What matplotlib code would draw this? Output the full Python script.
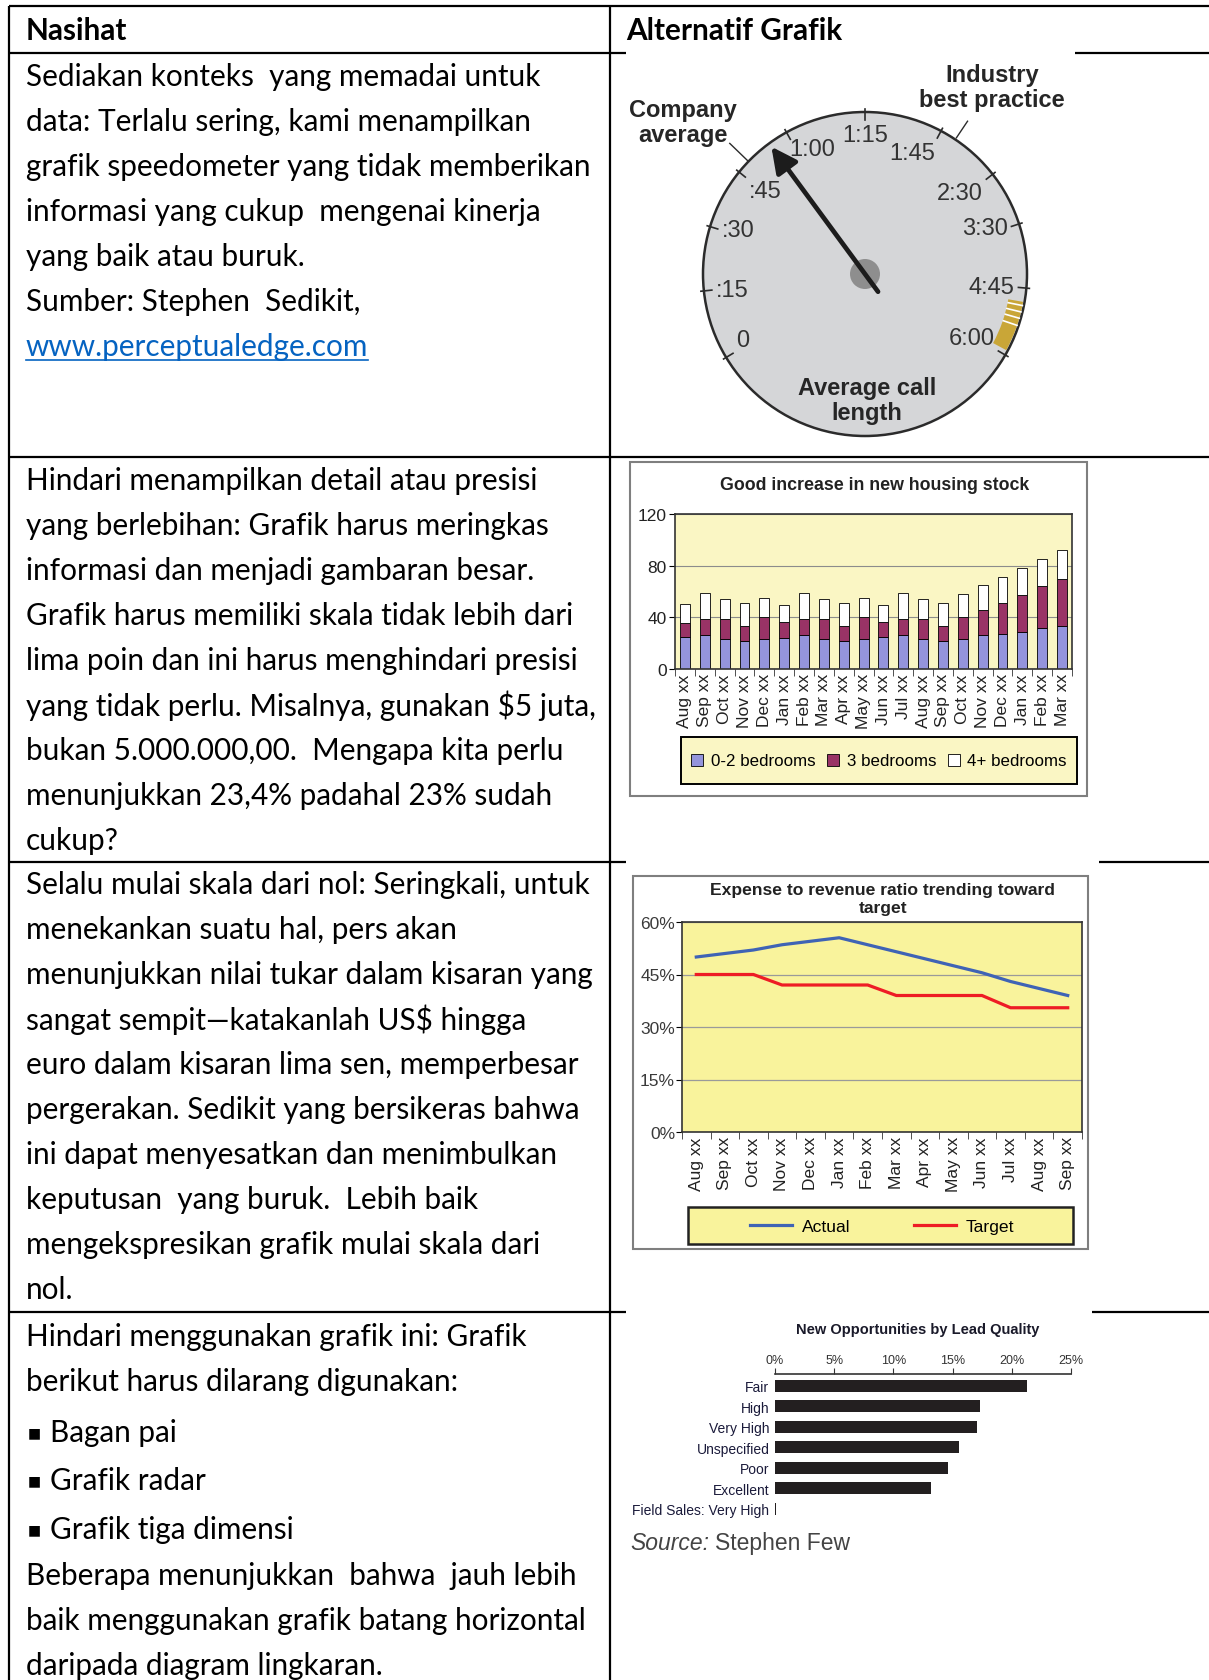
import numpy as np
import matplotlib.pyplot as plt
from matplotlib.patches import Circle, Wedge, Rectangle, FancyArrowPatch

W, H = 1209, 1681

# ---- text of the table ----
header_left = 'Nasihat'
header_right = 'Alternatif Grafik'
advice_1 = ['Sediakan konteks  yang memadai untuk',
            'data: Terlalu sering, kami menampilkan',
            'grafik speedometer yang tidak memberikan',
            'informasi yang cukup  mengenai kinerja',
            'yang baik atau buruk.',
            'Sumber: Stephen  Sedikit,']
advice_1_link = 'www.perceptualedge.com'
advice_2 = ['Hindari menampilkan detail atau presisi',
            'yang berlebihan: Grafik harus meringkas',
            'informasi dan menjadi gambaran besar.',
            'Grafik harus memiliki skala tidak lebih dari',
            'lima poin dan ini harus menghindari presisi',
            'yang tidak perlu. Misalnya, gunakan $5 juta,',
            'bukan 5.000.000,00.  Mengapa kita perlu',
            'menunjukkan 23,4% padahal 23% sudah',
            'cukup?']
advice_3 = ['Selalu mulai skala dari nol: Seringkali, untuk',
            'menekankan suatu hal, pers akan',
            'menunjukkan nilai tukar dalam kisaran yang',
            'sangat sempit\u2014katakanlah US$ hingga',
            'euro dalam kisaran lima sen, memperbesar',
            'pergerakan. Sedikit yang bersikeras bahwa',
            'ini dapat menyesatkan dan menimbulkan',
            'keputusan  yang buruk.  Lebih baik',
            'mengekspresikan grafik mulai skala dari',
            'nol.']
advice_4_intro = ['Hindari menggunakan grafik ini: Grafik',
                  'berikut harus dilarang digunakan:']
advice_4_bullets = ['Bagan pai', 'Grafik radar', 'Grafik tiga dimensi']
advice_4_outro = ['Beberapa menunjukkan  bahwa  jauh lebih',
                  'baik menggunakan grafik batang horizontal',
                  'daripada diagram lingkaran.']

# ---- gauge (seconds) ----
dial_seconds = [0, 15, 30, 45, 60, 75, 105, 150, 210, 285, 360]
dial_labels = ['0', ':15', ':30', ':45', '1:00', '1:15', '1:45', '2:30', '3:30', '4:45', '6:00']
company_average = 55
industry_best = 116
good_zone = (300, 355)

# ---- housing stock ----
housing_months = ['Aug xx', 'Sep xx', 'Oct xx', 'Nov xx', 'Dec xx', 'Jan xx', 'Feb xx',
                  'Mar xx', 'Apr xx', 'May xx', 'Jun xx', 'Jul xx', 'Aug xx', 'Sep xx',
                  'Oct xx', 'Nov xx', 'Dec xx', 'Jan xx', 'Feb xx', 'Mar xx']
beds_0_2 = [24.5, 26, 23, 21.5, 23, 24, 26, 23, 21.5, 23, 24.5, 26, 23, 21.5, 23, 26, 27, 29, 32, 33.5]
beds_3 = [11.5, 13, 16, 12, 17, 12.5, 13, 15.5, 12, 17, 12, 13, 15.5, 12, 17, 20, 24, 28.5, 32, 36]
beds_4 = [14, 20, 15, 17.5, 15, 13, 20, 15.5, 17.5, 15, 13, 20, 15.5, 17.5, 18, 19, 20.5, 21, 21.5, 23]

# ---- expense ratio ----
ratio_months = ['Aug xx', 'Sep xx', 'Oct xx', 'Nov xx', 'Dec xx', 'Jan xx', 'Feb xx',
                'Mar xx', 'Apr xx', 'May xx', 'Jun xx', 'Jul xx', 'Aug xx', 'Sep xx']
ratio_actual = [50, 51, 52, 53.5, 54.5, 55.5, 53.5, 51.5, 49.5, 47.5, 45.5, 43, 41, 39]
ratio_target = [45, 45, 45, 42, 42, 42, 42, 39, 39, 39, 39, 35.5, 35.5, 35.5]

# ---- lead quality ----
lead_quality = ['Fair', 'High', 'Very High', 'Unspecified', 'Poor', 'Excellent', 'Field Sales: Very High']
lead_share = [21.3, 17.3, 17.1, 15.5, 14.6, 13.2, 0.1]

fig = plt.figure(figsize=(W / 100, H / 100), dpi=100)


def px_axes(x0, y0, x1, y1, **kw):
    return fig.add_axes([x0 / W, 1 - y1 / H, (x1 - x0) / W, (y1 - y0) / H], **kw)


bg = px_axes(0, 0, W, H)
bg.set_xlim(0, W)
bg.set_ylim(H, 0)
bg.axis('off')

# table rules
rule = dict(color='black', lw=1.6, solid_capstyle='butt')
for y, segs in [(7, [(9, W)]), (53.5, [(9, 626), (1075, W)]), (457.5, [(9, W)]),
                (862.5, [(9, 626), (1099, W)]), (1313, [(9, 626), (1092, W)])]:
    for a, b in segs:
        bg.plot([a, b], [y, y], **rule)
bg.plot([9, 9], [7, H], **rule)
bg.plot([610, 610], [7, H], **rule)

body = dict(family=['Lato', 'DejaVu Sans'], fontsize=21.4, color='black', va='center', ha='left')
bg.text(26, 31, header_left, fontweight='bold', **body)
bg.text(626, 31, header_right, fontweight='bold', **body)

step = 45
for i, s in enumerate(advice_1):
    bg.text(26, 77 + i * step, s, **body)
link = bg.text(26, 77 + 6 * step, advice_1_link, **{**body, 'color': '#0563c1'})
for i, s in enumerate(advice_2):
    bg.text(26, 481 + i * step, s, **body)
for i, s in enumerate(advice_3):
    bg.text(26, 885 + i * step, s, **body)
for i, s in enumerate(advice_4_intro):
    bg.text(26, 1337 + i * step, s, **body)
for i, s in enumerate(advice_4_bullets):
    y = 1433 + i * 48.5
    bg.text(28, y, '\u25a0', family='DejaVu Sans', fontsize=10, va='center', ha='left')
    bg.text(50, y, s, **body)
for i, s in enumerate(advice_4_outro):
    bg.text(26, 1576 + i * step, s, **body)

# underline for the link
renderer = fig.canvas.get_renderer()
bb = link.get_window_extent(renderer)
(lx0, _), (lx1, _) = bg.transData.inverted().transform([[bb.x0, bb.y0], [bb.x1, bb.y0]])
bg.plot([lx0, lx1], [77 + 6 * step + 14, 77 + 6 * step + 14], color='#0563c1', lw=1.2)

# ---------------- gauge ----------------
dial_angles = [211, 186, 163, 141, 119, 90, 62, 38, 18, -5, -30]
gx = px_axes(620, 55, 1105, 452)
gx.set_xlim(-245, 240)
gx.set_ylim(-177, 220)
gx.axis('off')
R = 162


def ang(v):
    return np.interp(v, dial_seconds, dial_angles)


def polar(r, a):
    t = np.deg2rad(a)
    return r * np.cos(t), r * np.sin(t)


gx.add_patch(Circle((0, 0), R, fc='#d5d6d8', ec='#2b2b2b', lw=1.8))
a0, a1 = ang(good_zone[1]), ang(good_zone[0])
gx.add_patch(Wedge((0, 0), R - 1.5, a0, a1, width=15, fc='#c9a637', ec='none'))
for v in [304, 311, 318, 326]:
    a = ang(v)
    gx.plot(*zip(polar(R - 16, a), polar(R - 1.5, a)), color='white', lw=1.2)
for a, lab in zip(dial_angles, dial_labels):
    gx.plot(*zip(polar(R - 8, a), polar(R + 3, a)), color='#2b2b2b', lw=1.2)
    c, s = np.cos(np.deg2rad(a)), np.sin(np.deg2rad(a))
    ha = 'left' if c < -0.3 else ('right' if c > 0.3 else 'center')
    va = 'top' if s > 0.5 else ('bottom' if s < -0.45 else 'center')
    r = 156 if lab == '1:00' else 150
    gx.text(*polar(r, a), lab, ha=ha, va=va, fontsize=17, color='#333333',
            family='Liberation Sans')
gx.add_patch(Circle((0, 0), 15, fc='#8e8e8e', ec='none'))
a = ang(company_average)
gx.add_patch(FancyArrowPatch(polar(-22, a), polar(158, a),
                             arrowstyle='-|>,head_length=0.7,head_width=0.35',
                             mutation_scale=22, lw=3.4, color='#1c1c1c',
                             shrinkA=0, shrinkB=0))
gx.plot(*zip(polar(163, 136), polar(188, 136)), color='#2b2b2b', lw=1)
b = ang(industry_best)
gx.plot(*zip(polar(164, b), polar(184, b)), color='#2b2b2b', lw=1)
lab_kw = dict(ha='center', va='center', fontsize=17, fontweight='bold',
              color='#262626', family='Liberation Sans', linespacing=1.15)
gx.text(-182, 152, 'Company\naverage', **lab_kw)
gx.text(127, 187, 'Industry\nbest practice', **lab_kw)
gx.text(2, -126, 'Average call\nlength', **lab_kw)

# ---------------- housing stock ----------------
bg.add_patch(Rectangle((630, 463), 457, 334, fc='white', ec='#7f7f7f', lw=1.5))
bg.text(875, 485, 'Good increase in new housing stock', ha='center', va='center',
        fontsize=12.8, fontweight='bold', color='#222222', family='Liberation Sans')
hx = px_axes(675, 515, 1072, 670, facecolor='#faf6c4')
x = np.arange(len(housing_months))
b1 = hx.bar(x, beds_0_2, 0.5, color='#9494dc', ec='black', lw=0.6, label='0-2 bedrooms')
bot = np.array(beds_0_2)
b2 = hx.bar(x, beds_3, 0.5, bottom=bot, color='#993366', ec='black', lw=0.6, label='3 bedrooms')
bot = bot + np.array(beds_3)
b3 = hx.bar(x, beds_4, 0.5, bottom=bot, color='white', ec='black', lw=0.6, label='4+ bedrooms')
hx.set_xlim(-0.5, len(x) - 0.5)
hx.set_ylim(0, 120)
hx.set_yticks([0, 40, 80, 120])
hx.yaxis.grid(True, color='#8c8c8c', lw=0.8)
hx.set_axisbelow(True)
hx.set_xticks(x)
hx.set_xticklabels(housing_months, rotation=90, fontsize=12.5, family='Liberation Sans', color='#222222')
hx.set_xticks(np.arange(-0.5, len(x), 1), minor=True)
hx.tick_params(axis='x', which='major', length=0, pad=3)
hx.tick_params(axis='x', which='minor', length=5, color='#333333')
hx.tick_params(axis='y', length=4, pad=2, labelsize=12.5, labelcolor='#222222')
for t in hx.get_yticklabels():
    t.set_family('Liberation Sans')
for sp in hx.spines.values():
    sp.set_color('#333333')
    sp.set_linewidth(1.2)
bg.add_patch(Rectangle((681, 738), 396, 47, fc='#faf6c4', ec='black', lw=1.4))
hx.legend(handles=[b1, b2, b3], loc='center', ncol=3, frameon=False,
          bbox_to_anchor=(879 / W, 1 - 762 / H), bbox_transform=fig.transFigure,
          handlelength=0.7, handleheight=0.7, handletextpad=0.45, columnspacing=0.7,
          borderaxespad=0, prop={'family': 'Liberation Sans', 'size': 12.2})

# ---------------- expense ratio ----------------
bg.add_patch(Rectangle((633, 877), 455, 373, fc='white', ec='#7f7f7f', lw=1.5))
bg.text(883, 900, 'Expense to revenue ratio trending toward\ntarget', ha='center', va='center',
        fontsize=12.6, fontweight='bold', color='#222222', family='Liberation Sans',
        linespacing=1.25)
ex = px_axes(682, 923, 1082, 1133, facecolor='#f9f39c')
xr = np.arange(len(ratio_months))
la, = ex.plot(xr, ratio_actual, color='#3f63b5', lw=2.3, label='Actual')
lt, = ex.plot(xr, ratio_target, color='#ee1c25', lw=2.3, label='Target')
ex.set_xlim(-0.5, len(xr) - 0.5)
ex.set_ylim(0, 60)
ex.set_yticks([0, 15, 30, 45, 60])
ex.set_yticklabels([f'{v}%' for v in [0, 15, 30, 45, 60]], family='Liberation Sans')
ex.yaxis.grid(True, color='#9a9a9a', lw=0.9)
ex.set_axisbelow(True)
ex.set_xticks(xr)
ex.set_xticklabels(ratio_months, rotation=90, fontsize=12.5, family='Liberation Sans', color='#222222')
ex.set_xticks(np.arange(-0.5, len(xr), 1), minor=True)
ex.tick_params(axis='x', which='major', length=0, pad=3)
ex.tick_params(axis='x', which='minor', length=5, color='#333333')
ex.tick_params(axis='y', length=4, pad=1, labelsize=12.5, labelcolor='#3a3a3a')
for sp in ex.spines.values():
    sp.set_color('#333333')
    sp.set_linewidth(1.2)
bg.add_patch(Rectangle((688, 1208), 385, 37, fc='#f9f39c', ec='#222222', lw=1.8))
ex.legend(handles=[la, lt], loc='center', ncol=2, frameon=False,
          bbox_to_anchor=(882 / W, 1 - 1227 / H), bbox_transform=fig.transFigure,
          handlelength=2.4, handletextpad=0.6, columnspacing=3.6, borderaxespad=0,
          prop={'family': 'Liberation Sans', 'size': 12.6})

# ---------------- lead quality ----------------
bg.text(918, 1330, 'New Opportunities by Lead Quality', ha='center', va='center',
        fontsize=10.5, fontweight='bold', color='#1a1a2a', family='Liberation Sans')
qx = px_axes(775, 1375, 1071, 1520)
yq = np.arange(len(lead_quality))
qx.barh(yq, lead_share, height=0.6, color='#231f20')
qx.set_xlim(0, 25)
qx.set_ylim(len(lead_quality) - 0.5, -0.57)
qx.set_xticks([0, 5, 10, 15, 20, 25])
qx.set_xticklabels([f'{v}%' for v in [0, 5, 10, 15, 20, 25]], family='Liberation Sans')
qx.xaxis.tick_top()
qx.tick_params(axis='x', direction='out', length=4, pad=2, labelsize=9, labelcolor='#333333',
               color='#333333')
qx.set_yticks(yq)
qx.set_yticklabels(lead_quality, family='Liberation Sans', fontsize=10, color='#1a1a3a')
qx.tick_params(axis='y', length=0, pad=4)
for k in ['bottom', 'left', 'right']:
    qx.spines[k].set_visible(False)
qx.spines['top'].set_color('#333333')
qx.spines['top'].set_linewidth(1.2)
qx.set_facecolor('none')

src = bg.text(630, 1544, 'Source:', fontsize=16.5, style='italic', color='#444444',
              family='Liberation Sans', ha='left', va='center')
bg.annotate('Stephen Few', xy=(1, 0), xycoords=src, xytext=(4, 0), textcoords='offset points',
            fontsize=16.5, color='#444444', family='Liberation Sans', ha='left', va='bottom')

fig.savefig('out.png', dpi=100)
